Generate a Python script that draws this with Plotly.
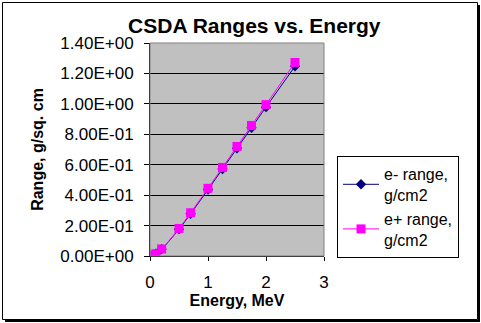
import plotly.graph_objects as go

# Kinetic energy (MeV)
energy = [0.01, 0.02, 0.05, 0.1, 0.2, 0.5, 0.7, 1.0, 1.25, 1.5, 1.75, 2.0, 2.5]
# CSDA ranges (g/cm2)
e_minus_range = [0.00025, 0.00086, 0.0043, 0.0143, 0.0449, 0.1766, 0.2778,
                 0.4367, 0.5717, 0.7075, 0.8432, 0.9785, 1.247]
e_plus_range = [0.00026, 0.00088, 0.0045, 0.0148, 0.0463, 0.181, 0.284,
                0.445, 0.582, 0.720, 0.858, 0.995, 1.272]

y_ticks = [0.0, 0.2, 0.4, 0.6, 0.8, 1.0, 1.2, 1.4]
y_tick_labels = ["0.00E+00", "2.00E-01", "4.00E-01", "6.00E-01",
                 "8.00E-01", "1.00E+00", "1.20E+00", "1.40E+00"]
x_ticks = [0, 1, 2, 3]

W, H = 481, 323
L, R, T, B = 150, 157, 43, 67
pw, ph = W - L - R, H - T - B


def px(x):
    return (x - L) / pw


def py(y):
    return (H - B - y) / ph


font = "Arial, Liberation Sans, sans-serif"

fig = go.Figure()
fig.add_trace(go.Scatter(
    x=energy, y=e_minus_range, mode="lines+markers", name="e- range,<br>g/cm2",
    line=dict(color="#000080", width=1, shape="spline"),
    marker=dict(symbol="diamond", size=8, color="#000080"),
))
fig.add_trace(go.Scatter(
    x=energy, y=e_plus_range, mode="lines+markers", name="e+ range,<br>g/cm2",
    line=dict(color="#FF00FF", width=1, shape="spline"),
    marker=dict(symbol="square", size=9, color="#FF00FF"),
))

shapes = [
    # plot area frame
    dict(type="rect", xref="paper", yref="paper", x0=0, y0=0, x1=1, y1=1,
         line=dict(color="#808080", width=1), layer="above"),
    # chart border
    dict(type="rect", xref="paper", yref="paper",
         x0=px(2.5), x1=px(477.5), y0=py(2.5), y1=py(319.5),
         line=dict(color="black", width=1)),
    # chart shadow
    dict(type="line", xref="paper", yref="paper",
         x0=px(479), x1=px(479), y0=py(5), y1=py(322),
         line=dict(color="black", width=2)),
    dict(type="line", xref="paper", yref="paper",
         x0=px(5), x1=px(480), y0=py(321), y1=py(321),
         line=dict(color="black", width=2)),
]

fig.update_layout(
    width=W, height=H,
    margin=dict(l=L, r=R, t=T, b=B, pad=0),
    paper_bgcolor="white", plot_bgcolor="#C0C0C0",
    font=dict(family=font, size=17, color="black"),
    title=dict(text="<b>CSDA Ranges vs. Energy</b>", x=px(242), xanchor="center",
               y=1 - 26 / H, yanchor="middle", font=dict(size=21)),
    xaxis=dict(range=[0, 3], tickvals=x_ticks, ticks="outside", ticklen=4,
               tickcolor="black", showline=True, linecolor="black", linewidth=1,
               showgrid=False, zeroline=False, ticklabelstandoff=7,
               title=dict(text="<b>Energy, MeV</b>", standoff=0, font=dict(size=16))),
    yaxis=dict(range=[0, 1.4], tickvals=y_ticks, ticktext=y_tick_labels,
               ticks="outside", ticklen=5, tickcolor="black", ticklabelstandoff=7,
               showline=True, linecolor="black", linewidth=1,
               showgrid=True, gridcolor="black", gridwidth=1, zeroline=False,
               title=dict(text="<b>Range, g/sq. cm</b>", standoff=12, font=dict(size=16))),
    legend=dict(x=px(337), y=py(156), xanchor="left", yanchor="top",
                bordercolor="black", borderwidth=1, bgcolor="white",
                font=dict(size=16), tracegroupgap=0, itemwidth=36),
    shapes=shapes,
    showlegend=True,
)

fig.write_html("out.html")
